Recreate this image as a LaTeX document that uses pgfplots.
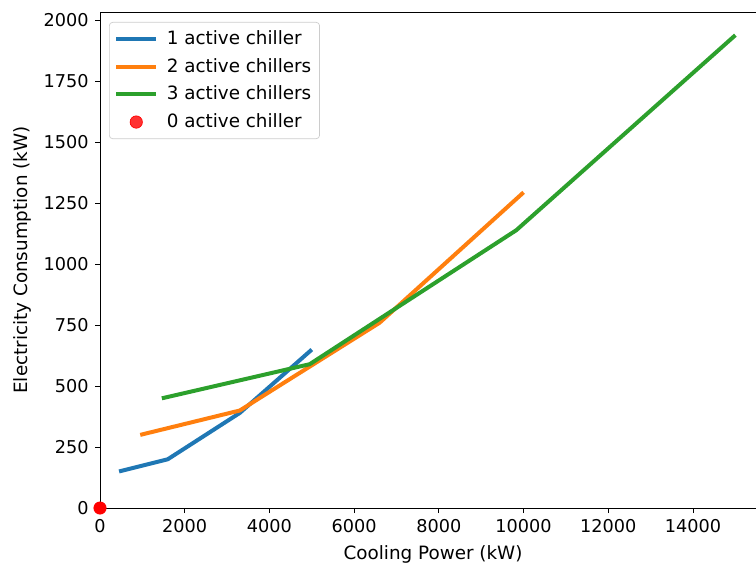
\documentclass[border=0pt]{standalone}
\usepackage{fontspec}
\setmainfont{DejaVu Sans}
\usepackage{pgfplots}
\pgfplotsset{compat=1.18}
\definecolor{c1}{HTML}{1F77B4}
\definecolor{c2}{HTML}{FF7F0E}
\definecolor{c3}{HTML}{2CA02C}
\begin{document}
\fontsize{11}{13.2}\selectfont
\begin{tikzpicture}
\begin{axis}[
  scale only axis, width=393.6pt, height=297.6pt,
  xmin=0, xmax=15487, ymin=0, ymax=2035,
  axis lines*=left, tick align=outside, axis on top,
  xtick={0,2000,...,14000}, ytick={0,250,...,2000},
  scaled ticks=false,
  major tick length=3pt,
  tick style={black, line width=0.5pt},
  axis line style={black, line width=0.5pt},
  /pgf/number format/assume math mode=true,
  /pgf/number format/1000 sep={},
  tick label style={font=\fontsize{10.6}{12.7}\selectfont},
  label style={font=\fontsize{11}{13.2}\selectfont},
  xlabel={Cooling Power (kW)}, ylabel={Electricity Consumption (kW)},
  xlabel style={xshift=3pt},
  clip=false,
  legend cell align=left,
  legend style={at={(0,1)}, anchor=north west, xshift=5.4pt, yshift=-6pt,
    draw=black!20, rounded corners=2pt, fill=white, fill opacity=0.8, text opacity=1,
    font=\fontsize{11}{13.2}\selectfont, row sep=2.6pt, column sep=3.2pt, inner sep=3pt},
  legend image code/.code={\draw[mark repeat=2,mark phase=2,#1] plot coordinates {(0cm,0cm) (0.42cm,0cm) (0.84cm,0cm)};},
]
\addplot[c1, line width=2.4pt, line join=round] coordinates {(450,150) (1600,200) (3300,390) (5000,650)};
\addlegendentry{1 active chiller}
\addplot[c2, line width=2.4pt, line join=round] coordinates {(950,300) (3300,400) (6600,760) (10000,1295)};
\addlegendentry{2 active chillers}
\addplot[c3, line width=2.4pt, line join=round] coordinates {(1460,450) (4950,590) (9830,1140) (15000,1940)};
\addlegendentry{3 active chillers}
\addplot[only marks, mark=*, mark size=3.7pt, red, mark options={draw=red, fill=red}] coordinates {(0,0)};
\addlegendentry{0 active chiller}
\draw[black, line width=0.5pt] (rel axis cs:0,1) -- (rel axis cs:1,1);
\path (rel axis cs:0,0) coordinate (sw);
\path (rel axis cs:1,1) coordinate (ne);
\end{axis}
\pgfresetboundingbox
\path[use as bounding box] ([shift={(-60pt,-35.4pt)}]sw) rectangle ([shift={(0pt,7.2pt)}]ne);
\end{tikzpicture}
\end{document}
